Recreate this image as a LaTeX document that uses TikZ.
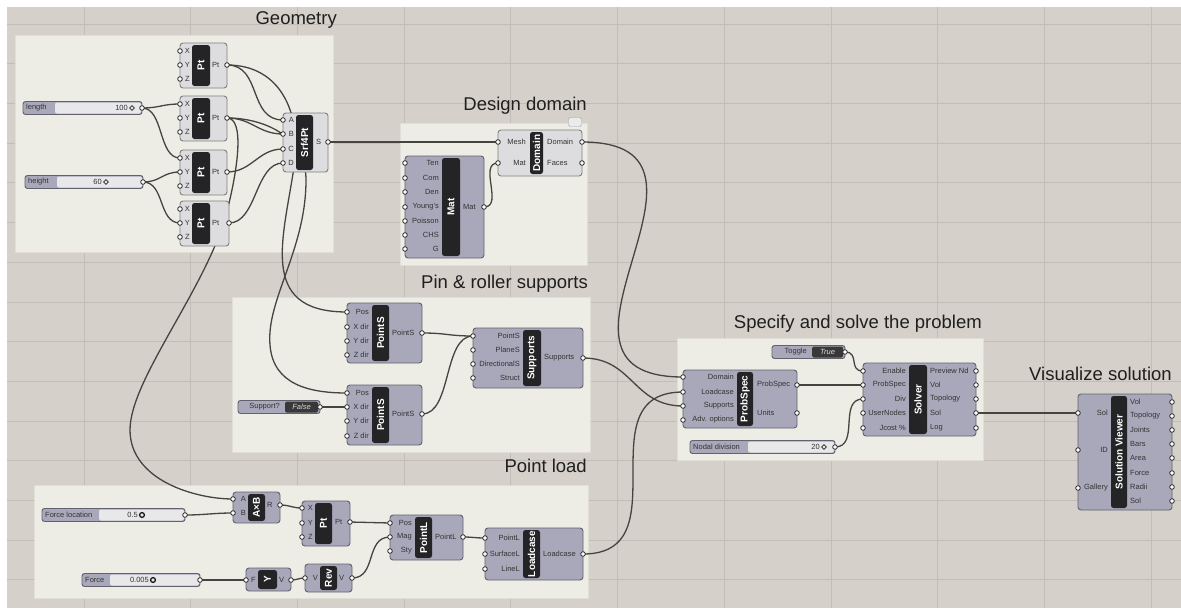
\documentclass[tikz,border=0pt]{standalone}
\usepackage{fontspec}
\setmainfont{Liberation Sans}
\usepackage{xcolor}
\definecolor{canvasbg}{RGB}{213,208,201}
\definecolor{gridgrey}{RGB}{194,189,182}
\definecolor{groupfill}{RGB}{237,236,229}
\definecolor{groupedge}{RGB}{224,222,214}
\definecolor{compfill}{RGB}{168,168,186}
\definecolor{compedge}{RGB}{98,98,110}
\definecolor{paramfill}{RGB}{221,221,223}
\definecolor{barblack}{RGB}{36,36,38}
\definecolor{wiregrey}{RGB}{70,68,64}
\definecolor{railfill}{RGB}{232,232,234}
\usepackage{tikz}
\usetikzlibrary{shapes.geometric}
\pgfdeclarelayer{panels}
\pgfdeclarelayer{wires}
\pgfsetlayers{panels,wires,main}
\tikzset{
    grouppanel/.style = {rectangle, draw=groupedge, fill=groupfill, line width=1pt,
                         inner sep=0pt, outer sep=0pt},
    grouptitle/.style = {anchor=east, inner sep=0pt, text=black!88,
                         font=\fontsize{18.5}{20}\selectfont},
    compbody/.style   = {rectangle, draw=compedge, fill=compfill, line width=0.9pt,
                         rounded corners=3pt, inner sep=0pt, outer sep=0pt},
    parambody/.style  = {compbody, fill=paramfill, draw=black!50},
    namebar/.style    = {rectangle, fill=barblack, rounded corners=2.5pt,
                         inner sep=0pt, outer sep=0pt},
    nametext/.style   = {rotate=90, inner sep=0pt, text=white,
                         font=\fontsize{10}{11}\selectfont\bfseries},
    portlabel/.style  = {inner sep=0pt, text=black!80, font=\fontsize{7.5}{8}\selectfont},
    port/.style       = {circle, draw=black!85, fill=white, line width=0.8pt,
                         minimum size=4.6pt, inner sep=0pt},
    sliderframe/.style= {compbody, rounded corners=2.5pt, minimum height=13pt},
    sliderrail/.style = {rectangle, fill=railfill, rounded corners=2pt, inner sep=0pt,
                         minimum height=11pt},
    intgrip/.style    = {diamond, draw=black!85, line width=0.8pt, minimum size=5pt,
                         inner sep=0pt},
    realgrip/.style   = {circle, draw=black!90, line width=1.3pt, minimum size=4.8pt,
                         inner sep=0pt},
    togglebox/.style  = {rectangle, fill=black!78, rounded corners=1.5pt, inner sep=0pt,
                         minimum height=11pt, text=white!85!black,
                         font=\fontsize{7.5}{8}\selectfont\itshape},
    tagbubble/.style  = {rectangle, draw=black!35, fill=white!92!black, rounded corners=1.5pt,
                         minimum width=13pt, minimum height=9pt, inner sep=0pt},
    wire/.style       = {draw=wiregrey, line width=1.3pt}
}
% group: name, x1, y1, x2, y2, title x, title y, title
\newcommand{\ghgroup}[8]{%
  \node[grouppanel, minimum width={#4-#2}, minimum height={#5-#3}] (#1) at ({(#2+#4)/2},{(#3+#5)/2}) {};
  \node[grouptitle] (#1-title) at (#6,#7) {#8};
}
% component: name, body style, x1, y1, x2, y2, bar x1, bar x2, title
\newcommand{\ghcomp}[9]{%
  \node[#2, minimum width={#5-#3}, minimum height={#6-#4}] (#1) at ({(#3+#5)/2},{(#4+#6)/2}) {};
  \node[namebar, minimum width={#8-#7}, minimum height={#6-#4-4}] (#1-bar) at ({(#7+#8)/2},{(#4+#6)/2}) {};
  \node[nametext] (#1-name) at (#1-bar) {#9};
}
% ports: name, edge x, label x, list of y/label
\newcommand{\ghins}[4]{%
  \foreach \py/\pl [count=\k] in {#4} {
    \node[port] (#1-i\k) at (#2,\py) {};
    \node[portlabel, anchor=east] (#1-il\k) at (#3,\py) {\pl};
  }}
\newcommand{\ghouts}[4]{%
  \foreach \py/\pl [count=\k] in {#4} {
    \node[port] (#1-o\k) at (#2,\py) {};
    \node[portlabel, anchor=west] (#1-ol\k) at (#3,\py) {\pl};
  }}
% slider: name, x1, x2, y, label box end, label, value, grip x, grip style
\newcommand{\ghslider}[9]{%
  \node[sliderframe, minimum width={#3-#2}] (#1) at ({(#2+#3)/2},#4) {};
  \node[sliderrail, minimum width={#3-#5-1}] (#1-rail) at ({(#5+#3-1)/2},#4) {};
  \node[portlabel, anchor=west] (#1-name) at (#2+3,#4) {#6};
  \node[portlabel, anchor=east] (#1-value) at (#8-4,#4) {#7};
  \node[#9] (#1-grip) at (#8,#4) {};
  \node[port] (#1-o1) at (#3,#4) {};
}
% toggle: name, x1, x2, y, value box start, label, value
\newcommand{\ghtoggle}[7]{%
  \node[sliderframe, minimum width={#3-#2}] (#1) at ({(#2+#3)/2},#4) {};
  \node[togglebox, minimum width={#3-#5-2}] (#1-box) at ({(#5+#3-2)/2},#4) {#7};
  \node[portlabel, anchor=east] (#1-name) at (#5-5,#4) {#6};
  \node[port] (#1-o1) at (#3,#4) {};
}
\newcommand{\ghwire}[3]{\draw[wire] (#1.center) .. controls +(#3,0) and +(-#3,0) .. (#2.center);}

\begin{document}
\begin{tikzpicture}[x=1pt, y=-1pt]
\useasboundingbox (0,0) rectangle (1181,608);
\begin{pgfonlayer}{panels}
  \fill[white] (0,0) rectangle (1181,608);
  \fill[canvasbg] (7,7) rectangle (1181,608);
  \foreach \k in {0,...,10}
    \draw[gridgrey, line width=0.7pt] ({84+106.7*\k},7) -- ({84+106.7*\k},608);
  \foreach \k in {0,...,14}
    \draw[gridgrey, line width=0.7pt] (7,{24+39.7*\k}) -- (1181,{24+39.7*\k});
  \ghgroup{geometry}{15}{35}{333}{252}{337}{20}{Geometry}
  \ghgroup{designdomain}{400}{123}{587}{265}{587}{106}{Design domain}
  \ghgroup{pinroller}{232}{297}{590}{452}{588}{284}{Pin \& roller supports}
  \ghgroup{solve}{677}{338}{983}{460}{982}{324}{Specify and solve the problem}
  \ghgroup{pointload}{34}{485}{588}{598}{587}{466}{Point load}
  \node[grouptitle] (visualize) at (1172,374) {Visualize solution};
\end{pgfonlayer}

% Geometry
\ghcomp{pt1}{parambody}{180}{43}{227}{88}{192}{210}{Pt}
\ghins{pt1}{180}{190}{51/X,65/Y,79/Z}
\ghouts{pt1}{227}{212}{65/Pt}
\ghcomp{pt2}{parambody}{180}{96}{227}{141}{192}{210}{Pt}
\ghins{pt2}{180}{190}{104/X,118/Y,132/Z}
\ghouts{pt2}{227}{212}{118/Pt}
\ghcomp{pt3}{parambody}{180}{150}{227}{195}{192}{210}{Pt}
\ghins{pt3}{180}{190}{158/X,172/Y,186/Z}
\ghouts{pt3}{227}{212}{172/Pt}
\ghcomp{pt4}{parambody}{180}{201}{229}{246}{192}{210}{Pt}
\ghins{pt4}{180}{190}{209/X,223/Y,237/Z}
\ghouts{pt4}{229}{212}{223/Pt}
\ghcomp{srf}{parambody}{283}{113}{328}{172}{296}{313}{Srf4Pt}
\ghins{srf}{283}{294}{120/A,134/B,149/C,163/D}
\ghouts{srf}{328}{316}{142/S}
\ghslider{length}{23}{142}{108}{55}{length}{100}{132}{intgrip}
\ghslider{height}{25}{143}{182}{57}{height}{60}{106}{intgrip}

% Design domain
\ghcomp{domain}{parambody}{498}{130}{582}{176}{530}{543}{Domain}
\ghins{domain}{498}{526}{142/Mesh,163/Mat}
\ghouts{domain}{582}{547}{142/Domain,163/Faces}
\node[tagbubble] (domain-tag) at (575,122) {};
\ghcomp{mat}{compbody}{405}{156}{484}{258}{442}{460}{Mat}
\ghins{mat}{405}{439}{163/Ten,178/Com,192/Den,207/Young's,221/Poisson,235/CHS,249/G}
\ghouts{mat}{484}{463}{207/Mat}

% Pin & roller supports
\ghcomp{ps1}{compbody}{347}{303}{422}{363}{372}{389}{PointS}
\ghins{ps1}{347}{369}{312/Pos,327/X dir,341/Y dir,355/Z dir}
\ghouts{ps1}{422}{392}{333/PointS}
\ghcomp{ps2}{compbody}{347}{385}{422}{445}{372}{389}{PointS}
\ghins{ps2}{347}{369}{393/Pos,407/X dir,421/Y dir,436/Z dir}
\ghouts{ps2}{422}{392}{414/PointS}
\ghcomp{sup}{compbody}{473}{328}{583}{388}{523}{541}{Supports}
\ghins{sup}{473}{520}{336/PointS,350/PlaneS,364/DirectionalS,378/Struct}
\ghouts{sup}{583}{544}{358/Supports}
\ghtoggle{supportq}{238}{320}{407}{285}{Support?}{False}

% Specify and solve
\ghcomp{prob}{compbody}{683}{370}{797}{428}{737}{753}{ProbSpec}
\ghins{prob}{683}{734}{377/Domain,392/Loadcase,406/Supports,420/Adv. options}
\ghouts{prob}{797}{757}{385/ProbSpec,413/Units}
\ghtoggle{toggle}{772}{845}{352}{812}{Toggle}{True}
\ghcomp{solver}{compbody}{863}{363}{976}{436}{909}{927}{Solver}
\ghins{solver}{863}{906}{371/Enable,385/ProbSpec,399/Div,413/UserNodes,428/Jcost \%}
\ghouts{solver}{976}{930}{371/Preview Nd,385/Vol,399/Topology,413/Sol,428/Log}
\ghslider{nodal}{690}{835}{447}{748}{Nodal division}{20}{824}{intgrip}

% Visualize
\ghcomp{viewer}{compbody}{1078}{394}{1172}{510}{1111}{1127}{Solution Viewer}
\ghins{viewer}{1078}{1108}{413/Sol,450/ID,488/Gallery}
\ghouts{viewer}{1172}{1130}{402/Vol,416/Topology,430/Joints,444/Bars,458/Area,473/Force,487/Radii,501/Sol}

% Point load
\ghcomp{axb}{compbody}{233}{492}{280}{523}{248}{265}{A×B}
\ghins{axb}{233}{246}{499/A,513/B}
\ghouts{axb}{280}{267}{505/R}
\ghslider{forceloc}{42}{185}{515}{99}{Force location}{0.5}{142}{realgrip}
\ghcomp{pt5}{compbody}{302}{501}{350}{546}{315}{332}{Pt}
\ghins{pt5}{302}{313}{508/X,523/Y,537/Z}
\ghouts{pt5}{350}{335}{522/Pt}
\ghslider{force}{82}{200}{580}{110}{Force}{0.005}{153}{realgrip}
\ghcomp{yneg}{compbody}{246}{568}{291}{591}{258}{277}{Y}
\ghins{yneg}{246}{256}{580/F}
\ghouts{yneg}{291}{279}{580/V}
\ghcomp{rev}{compbody}{305}{564}{352}{592}{320}{337}{Rev}
\ghins{rev}{305}{318}{578/V}
\ghouts{rev}{352}{339}{578/V}
\ghcomp{pointl}{compbody}{390}{515}{463}{560}{415}{432}{PointL}
\ghins{pointl}{390}{412}{523/Pos,537/Mag,551/Sty}
\ghouts{pointl}{463}{435}{537/PointL}
\ghcomp{loadcase}{compbody}{485}{528}{583}{580}{523}{540}{Loadcase}
\ghins{loadcase}{485}{520}{538/PointL,554/SurfaceL,569/LineL}
\ghouts{loadcase}{583}{543}{554/Loadcase}

\begin{pgfonlayer}{wires}
  \ghwire{length-o1}{pt2-i1}{18}
  \ghwire{length-o1}{pt3-i1}{22}
  \ghwire{height-o1}{pt3-i2}{18}
  \ghwire{height-o1}{pt4-i2}{22}
  \ghwire{pt1-o1}{srf-i1}{35}
  \ghwire{pt2-o1}{srf-i2}{25}
  \ghwire{pt3-o1}{srf-i3}{25}
  \ghwire{pt4-o1}{srf-i4}{28}
  \ghwire{srf-o1}{domain-i1}{40}
  \ghwire{mat-o1}{domain-i2}{20}
  \ghwire{domain-o1}{prob-i1}{170}
  \draw[wire] (pt1-o1.center) .. controls (282,65) and (300,115) .. (295,160)
      .. controls (285,235) and (255,312) .. (ps1-i1.center);
  \draw[wire] (pt2-o1.center) .. controls (262,118) and (306,135) .. (306,180)
      .. controls (306,250) and (266,300) .. (270,345)
      .. controls (273,385) and (310,393) .. (ps2-i1.center);
  \draw[wire] (pt2-o1.center) .. controls (245,118) and (238,170) .. (226,215)
      .. controls (205,290) and (130,380) .. (130,430)
      .. controls (130,480) and (195,499) .. (axb-i1.center);
  \ghwire{ps1-o1}{sup-i1}{25}
  \ghwire{ps2-o1}{sup-i1}{30}
  \ghwire{supportq-o1}{ps2-i2}{10}
  \ghwire{sup-o1}{prob-i3}{50}
  \ghwire{loadcase-o1}{prob-i2}{100}
  \ghwire{forceloc-o1}{axb-i2}{20}
  \ghwire{axb-o1}{pt5-i1}{10}
  \ghwire{pt5-o1}{pointl-i1}{20}
  \ghwire{force-o1}{yneg-i1}{20}
  \ghwire{yneg-o1}{rev-i1}{7}
  \ghwire{rev-o1}{pointl-i2}{25}
  \ghwire{pointl-o1}{loadcase-i1}{10}
  \ghwire{toggle-o1}{solver-i1}{15}
  \ghwire{prob-o1}{solver-i2}{30}
  \ghwire{nodal-o1}{solver-i3}{25}
  \ghwire{solver-o4}{viewer-i1}{40}
\end{pgfonlayer}
\end{tikzpicture}
\end{document}
